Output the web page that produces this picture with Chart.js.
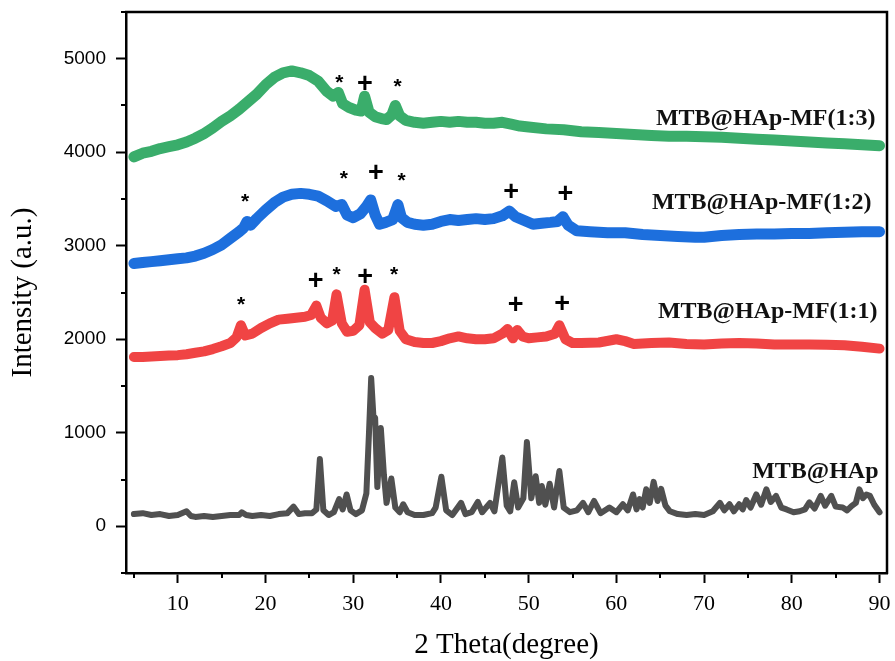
<!DOCTYPE html>
<html>
<head>
<meta charset="utf-8">
<script src="https://cdn.jsdelivr.net/npm/chart.js@4.4.1/dist/chart.umd.min.js"></script>
<style>
html,body{margin:0;padding:0;background:#fff;}
#wrap{width:895px;height:661px;}
</style>
</head>
<body>
<div id="wrap"><canvas id="c" width="895" height="661"></canvas></div>
<script>
// ---------- data ----------
const mf13Angle = [5,6,7,8,9,10,11,12,13,14,15,16,17,18,19,20,21,22,23,24,25,26,27,27.7,28.3,28.8,29.5,30.3,30.9,31.3,31.8,32.5,33.2,33.8,34.4,34.8,35.3,36,37,38,39,40,41,42,43,44,45,46,47,48,49,50,52,54,56,58,60,62,64,66,68,70,72,74,76,78,80,82,84,86,88,90];
const mf13Intensity = [3950,3990,4010,4040,4060,4080,4110,4150,4200,4260,4330,4390,4460,4540,4620,4720,4800,4850,4870,4850,4820,4760,4650,4600,4640,4520,4480,4450,4440,4600,4430,4380,4360,4350,4400,4500,4390,4340,4320,4310,4320,4330,4320,4330,4320,4320,4310,4310,4320,4300,4280,4270,4250,4240,4220,4210,4200,4190,4180,4170,4170,4165,4160,4150,4140,4130,4120,4110,4100,4090,4080,4070];

const mf12Angle = [5,6,7,8,9,10,11,12,13,14,15,16,17,17.5,17.9,18.3,19,20,21,22,23,24,25,26,27,28,28.7,29.3,30,30.8,31.5,32,32.5,33,33.7,34.5,35.1,35.5,36.2,37,38,39,40,41,42,43,44,45,46,47,47.8,48.5,49.5,50.5,51.5,52.5,53.3,53.9,54.5,55.5,57,59,61,63,65,67,69,70,72,74,76,78,80,82,84,86,88,90];
const mf12Intensity = [2810,2820,2830,2840,2850,2860,2870,2890,2920,2960,3010,3080,3150,3190,3260,3220,3290,3380,3460,3520,3550,3560,3550,3530,3480,3420,3440,3330,3300,3340,3420,3490,3330,3230,3250,3280,3440,3300,3250,3230,3220,3230,3260,3280,3270,3280,3290,3280,3290,3320,3370,3310,3270,3230,3240,3250,3260,3310,3220,3160,3150,3140,3140,3120,3110,3100,3090,3090,3110,3120,3125,3125,3130,3130,3140,3145,3150,3150];

const mf11Angle = [5,6,7,8,9,10,11,12,13,14,15,16,16.7,17.2,17.7,18.5,19.5,20.5,21.5,22.5,23.5,24.5,25.2,25.8,26.3,27,27.6,28.1,28.7,29.3,30,30.7,31.3,31.9,32.5,33.3,34,34.7,35.3,36,37,38,39,40,41,42,43,44,45,46,47,47.6,48.2,48.7,49.3,50,51,52,53,53.5,54.2,55,56,58,60,61,62,64,66,68,70,72,74,76,78,80,82,84,86,88,90];
const mf11Intensity = [1810,1810,1815,1820,1825,1830,1840,1855,1870,1895,1925,1960,2020,2150,2040,2060,2120,2170,2210,2220,2230,2240,2260,2360,2230,2170,2200,2480,2170,2080,2090,2150,2530,2180,2120,2060,2100,2450,2090,2000,1970,1960,1960,1980,2010,2030,2010,2000,2000,2010,2060,2110,2010,2100,2030,2010,2020,2030,2060,2150,2000,1960,1960,1965,2000,1980,1950,1960,1965,1950,1945,1955,1960,1955,1945,1945,1945,1940,1935,1920,1900];

const hapAngle = [5,6,7,8,9,10,11,11.5,12,13,14,15,16,17,17.3,17.8,18.5,19.5,20.5,21.5,22.5,23.2,23.8,24.5,25.3,25.8,26.2,26.6,27.2,27.8,28.4,28.8,29.25,29.7,30.3,31,31.5,31.8,32.05,32.3,32.5,32.75,33.15,33.5,33.8,34.35,34.8,35.3,35.7,36.2,37,38,39,39.4,40.05,40.6,41.3,42.3,42.8,43.5,44.2,44.7,45.6,46.1,47,47.5,47.9,48.35,48.8,49.4,49.8,50.3,50.8,51.2,51.5,51.9,52.4,52.9,53.5,54,54.7,55.5,56.2,56.8,57.45,58.2,59.2,60,60.75,61.3,61.9,62.3,62.65,63,63.4,63.8,64.25,64.7,65.1,65.6,66.1,67,68,69,70,71,71.8,72.3,72.9,73.4,74,74.4,74.8,75.3,75.95,76.5,77.1,77.6,78.2,78.8,79.4,80.2,80.9,81.5,82,82.6,83.3,83.8,84.5,85,85.8,86.3,86.8,87.3,87.7,88.1,88.5,88.9,89.4,90];
const hapIntensity = [130,140,120,130,110,120,160,110,100,110,100,110,120,120,150,120,110,120,110,130,140,210,130,140,140,180,720,170,120,150,290,180,340,170,130,170,350,1000,1585,1180,1160,420,1050,550,250,510,200,150,235,150,120,120,140,200,530,170,120,250,130,150,260,150,250,160,735,220,160,470,200,300,900,300,535,250,430,230,455,200,590,200,150,170,250,150,270,140,200,150,235,170,340,180,290,200,395,250,475,270,400,220,160,130,120,130,120,160,250,170,235,160,235,180,280,200,340,230,395,260,325,200,180,150,160,180,255,190,325,220,325,210,200,170,215,250,395,300,340,325,230,150];

const seriesNames = ['MTB@HAp-MF(1:3)', 'MTB@HAp-MF(1:2)', 'MTB@HAp-MF(1:1)', 'MTB@HAp'];

// tick values
const xMinorTicks = [5,15,25,35,45,55,65,75,85];
const yMinorTicks = [-500,500,1500,2500,3500,4500,5500];

// annotation anchors (data coordinates)
const markerSymbol = ['*','+','*', '*','*','+','*','+','+', '*','+','*','+','*','+','+'];
const markerAngle  = [28.41,31.33,35.06, 17.67,28.94,32.59,35.52,48.0,54.2, 17.21,25.72,28.11,31.37,34.67,48.53,53.81];
const markerLevel  = [4786,4749,4739, 3507,3761,3797,3732,3594,3565, 2412,2634,2733,2680,2733,2383,2394];
const nameAngle = [89.54, 89.09, 89.77, 89.88];
const nameLevel = [4296, 3398, 2230, 517];

// ---------- styles ----------
const SERIF = "'Liberation Serif', 'Times New Roman', Times, serif";
const SANS = "'Liberation Sans', Arial, Helvetica, sans-serif";
const colors = ['#3aad6b', '#1d6fdd', '#f04444', '#505050'];
const widths = [11, 11, 10, 6];

function pts(xs, ys) { return xs.map((a, i) => ({x: a, y: ys[i]})); }
const seriesData = [pts(mf13Angle, mf13Intensity), pts(mf12Angle, mf12Intensity), pts(mf11Angle, mf11Intensity), pts(hapAngle, hapIntensity)];

const decor = {
  id: 'decor',
  afterDatasetsDraw(chart) {
    const {ctx, chartArea: a, scales: {x, y}} = chart;
    ctx.save();
    ctx.strokeStyle = '#000';
    ctx.lineCap = 'butt';
    // top & right frame
    ctx.lineWidth = 2.5;
    ctx.beginPath();
    ctx.moveTo(a.left - 1, a.top);
    ctx.lineTo(a.right, a.top);
    ctx.lineTo(a.right, a.bottom + 1);
    ctx.stroke();
    // minor ticks
    ctx.lineWidth = 2;
    ctx.beginPath();
    xMinorTicks.forEach(v => { const p = Math.round(x.getPixelForValue(v)); ctx.moveTo(p, a.bottom); ctx.lineTo(p, a.bottom + 5); });
    yMinorTicks.forEach(v => { const p = Math.round(y.getPixelForValue(v)); ctx.moveTo(a.left, p); ctx.lineTo(a.left - 5, p); });
    ctx.stroke();
    // peak markers
    ctx.fillStyle = '#000';
    ctx.textAlign = 'center';
    ctx.textBaseline = 'alphabetic';
    markerSymbol.forEach((s, i) => {
      ctx.font = s === '*' ? 'bold 21px ' + SANS : 'bold 27px ' + SANS;
      const m = ctx.measureText(s);
      const mid = (m.actualBoundingBoxAscent - m.actualBoundingBoxDescent) / 2;
      ctx.fillText(s, x.getPixelForValue(markerAngle[i]), y.getPixelForValue(markerLevel[i]) + mid);
    });
    // series names
    ctx.font = 'bold 24px ' + SERIF;
    ctx.textAlign = 'right';
    ctx.fillStyle = '#111';
    seriesNames.forEach((n, i) => {
      ctx.fillText(n, x.getPixelForValue(nameAngle[i]), y.getPixelForValue(nameLevel[i]));
    });
    ctx.restore();
  }
};

new Chart(document.getElementById('c'), {
  type: 'line',
  data: {
    datasets: seriesData.map((d, i) => ({
      label: seriesNames[i],
      data: d,
      borderColor: colors[i],
      backgroundColor: colors[i],
      borderWidth: widths[i],
      pointRadius: 0,
      tension: 0,
      fill: false,
      borderJoinStyle: 'round',
      borderCapStyle: 'round'
    }))
  },
  options: {
    responsive: false,
    animation: false,
    devicePixelRatio: 1,
    layout: {padding: {left: 0, right: 8, top: 12, bottom: 0}},
    plugins: {legend: {display: false}, tooltip: {enabled: false}},
    scales: {
      x: {
        type: 'linear', position: 'bottom', min: 4.1, max: 90.85,
        afterFit: s => { s.height = 88; s.paddingLeft = 0; s.paddingRight = 0; },
        border: {display: true, color: '#000', width: 2.5},
        grid: {display: true, drawOnChartArea: false, drawTicks: true, tickLength: 10, tickWidth: 2,
               tickColor: c => (c.tick && c.tick.value % 10 === 0) ? '#000' : 'rgba(0,0,0,0)'},
        ticks: {stepSize: 5, includeBounds: false, autoSkip: false, maxRotation: 0, minRotation: 0, padding: 8,
                color: '#000', font: {family: SERIF, size: 22},
                callback: v => (v % 10 === 0 ? String(v) : '')},
        title: {display: true, text: '2 Theta(degree)', color: '#000', font: {family: SERIF, size: 29, lineHeight: 1}, padding: {top: 0, bottom: 1}}
      },
      y: {
        type: 'linear', position: 'left', min: -500, max: 5500,
        afterFit: s => { s.width = 126; s.paddingTop = 0; s.paddingBottom = 0; },
        border: {display: true, color: '#000', width: 2.5},
        grid: {display: true, drawOnChartArea: false, drawTicks: true, tickLength: 10, tickWidth: 2,
               tickColor: c => (c.tick && c.tick.value % 1000 === 0 && c.tick.value >= 0 && c.tick.value <= 5000) ? '#000' : 'rgba(0,0,0,0)'},
        ticks: {stepSize: 500, includeBounds: false, autoSkip: false, padding: 10,
                color: '#000', font: {family: SANS, size: 19},
                callback: v => ((v % 1000 === 0 && v >= 0 && v <= 5000) ? String(v) : '')},
        title: {display: true, text: 'Intensity (a.u.)', color: '#000', font: {family: SERIF, size: 29, lineHeight: 1}, padding: {top: 9, bottom: 0}}
      }
    }
  },
  plugins: [decor]
});
</script>
</body>
</html>
